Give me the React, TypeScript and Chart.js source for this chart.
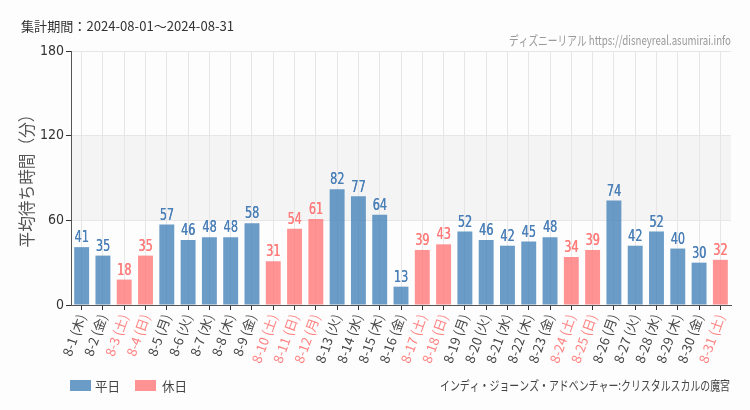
import React, { useEffect, useRef } from "react";
import { Chart, registerables } from "chart.js";
Chart.register(...registerables);

const dates = ["8-1","8-2","8-3","8-4","8-5","8-6","8-7","8-8","8-9","8-10","8-11","8-12","8-13","8-14","8-15","8-16","8-17","8-18","8-19","8-20","8-21","8-22","8-23","8-24","8-25","8-26","8-27","8-28","8-29","8-30","8-31"];
const weekdays = ["木","金","土","日","月","火","水","木","金","土","日","月","火","水","木","金","土","日","月","火","水","木","金","土","日","月","火","水","木","金","土"];
const holidays = [false,false,true,true,false,false,false,false,false,true,true,true,false,false,false,false,true,true,false,false,false,false,false,true,true,false,false,false,false,false,true];
const waitTimes = [41,35,18,35,57,46,48,48,58,31,54,61,82,77,64,13,39,43,52,46,42,45,48,34,39,74,42,52,40,30,32];
const yTicks = [0, 60, 120, 180];

const titleText = "集計期間：2024-08-01～2024-08-31";
const sourceText = "ディズニーリアル https://disneyreal.asumirai.info";
const attractionText = "インディ・ジョーンズ・アドベンチャー:クリスタルスカルの魔宮";
const yTitle = "平均待ち時間（分）";
const legendLabels = ["平日", "休日"];

const BLUE_BAR = "rgba(70,130,185,0.8)";
const PINK_BAR = "rgba(255,120,120,0.8)";
const BLUE_TXT = "#4a7fb8";
const PINK_TXT = "#ff7a7a";
const CJK = '"Noto Sans CJK JP", "Noto Sans", sans-serif';
const NARROW = '"Liberation Sans Narrow", "DejaVu Sans Condensed", sans-serif';

function fitText(ctx: CanvasRenderingContext2D, text: string, x: number, y: number, width: number, align: "left" | "right" | "center") {
  const w = ctx.measureText(text).width;
  const s = width / w;
  ctx.save();
  ctx.translate(x, y);
  ctx.scale(s, 1);
  ctx.textAlign = align;
  ctx.fillText(text, 0, 0);
  ctx.restore();
}

const decor = {
  id: "decor",
  beforeDraw(chart: any) {
    const { ctx, chartArea, scales } = chart;
    ctx.save();
    ctx.fillStyle = "#fcfdfc";
    ctx.fillRect(0, 0, chart.width, chart.height);
    const y = scales.y;
    ctx.fillStyle = "#f3f4f3";
    const top = y.getPixelForValue(120);
    const bot = y.getPixelForValue(60);
    ctx.fillRect(chartArea.left, top, chartArea.right - chartArea.left, bot - top);
    ctx.restore();
  },
  afterDraw(chart: any) {
    const { ctx } = chart;
    ctx.save();
    ctx.textBaseline = "middle";
    // title
    ctx.fillStyle = "#333";
    ctx.font = `13px ${CJK}`;
    fitText(ctx, titleText, 21, 26, 213, "left");
    // source
    ctx.fillStyle = "#999";
    ctx.font = `13px ${CJK}`;
    fitText(ctx, sourceText, 731, 40, 222, "right");
    // attraction
    ctx.fillStyle = "#444";
    ctx.font = `13px ${CJK}`;
    fitText(ctx, attractionText, 730, 385, 290, "right");
    // legend
    ctx.fillStyle = BLUE_BAR;
    ctx.fillRect(70, 380, 21, 11);
    ctx.fillStyle = PINK_BAR;
    ctx.fillRect(135, 380, 21, 11);
    ctx.fillStyle = "#444";
    ctx.font = `13px ${CJK}`;
    fitText(ctx, legendLabels[0], 95, 386, 25, "left");
    fitText(ctx, legendLabels[1], 162, 386, 25, "left");
    // y title
    ctx.fillStyle = "#555";
    ctx.font = `17px ${CJK}`;
    ctx.translate(27, 177);
    ctx.rotate(-Math.PI / 2);
    fitText(ctx, yTitle, 0, 0, 141, "center");
    ctx.restore();
    // data labels
    ctx.save();
    const meta = chart.getDatasetMeta(0);
    ctx.font = `16px ${NARROW}`;
    ctx.textBaseline = "bottom";
    meta.data.forEach((bar: any, i: number) => {
      ctx.fillStyle = holidays[i] ? PINK_TXT : BLUE_TXT;
      ctx.save();
      ctx.translate(bar.x, bar.y - 1);
      ctx.scale(0.78, 1);
      ctx.textAlign = "center";
      ctx.fillText(String(waitTimes[i]), 0, 0);
      ctx.fillText(String(waitTimes[i]), 0.4, 0);
      ctx.restore();
    });
    ctx.restore();
  },
};

export default function App() {
  const ref = useRef<HTMLCanvasElement>(null);
  useEffect(() => {
    const labels = dates.map((d, i) => `${d} (${weekdays[i]})`);
    const chart = new Chart(ref.current!, {
      type: "bar",
      data: {
        labels,
        datasets: [
          {
            data: waitTimes,
            backgroundColor: holidays.map((h) => (h ? PINK_BAR : BLUE_BAR)),
            barPercentage: 0.7,
            categoryPercentage: 1,
          },
        ],
      },
      options: {
        animation: false,
        responsive: false,
        maintainAspectRatio: false,
        layout: { padding: { left: 0, top: 51, right: 19, bottom: 0 } },
        plugins: { legend: { display: false }, tooltip: { enabled: false } },
        scales: {
          x: {
            offset: true,
            grid: { offset: false, color: "#e6e6e6", tickColor: "#333", tickLength: 5, drawOnChartArea: true },
            border: { color: "#555", width: 1 },
            ticks: {
              minRotation: 70,
              maxRotation: 70,
              autoSkip: false,
              padding: 2,
              font: { size: 13, family: CJK },
              color: (c: any) => (holidays[c.index] ? "#ff8080" : "#444"),
            },
            afterFit: (s: any) => { s.height = 105; },
          },
          y: {
            min: 0,
            max: 180,
            afterBuildTicks: (s: any) => { s.ticks = yTicks.map((v) => ({ value: v })); },
            grid: { color: "#e6e6e6", tickColor: "#333", tickLength: 5 },
            border: { color: "#555", width: 1 },
            ticks: { font: { size: 14, family: NARROW }, color: "#333", padding: 2 },
            afterFit: (s: any) => { s.width = 71; },
          },
        },
      },
      plugins: [decor],
    });
    return () => chart.destroy();
  }, []);
  return (
    <div style={{ position: "absolute", left: 0, top: 0, width: 750, height: 410 }}>
      <canvas ref={ref} width={750} height={410} style={{ width: 750, height: 410 }} />
    </div>
  );
}
